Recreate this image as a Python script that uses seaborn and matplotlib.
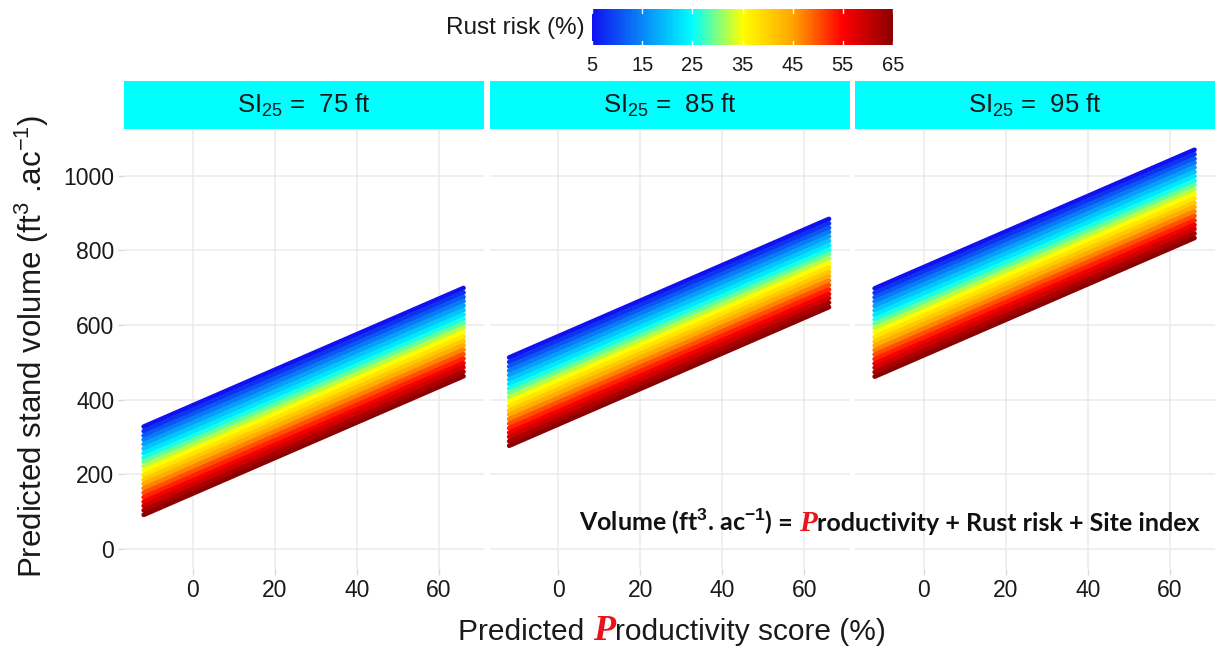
import numpy as np
import pandas as pd
import matplotlib
matplotlib.use("Agg")
import matplotlib.pyplot as plt
import seaborn as sns
from matplotlib.colors import LinearSegmentedColormap, Normalize
from matplotlib.cm import ScalarMappable
from matplotlib.offsetbox import TextArea, HPacker, AnchoredOffsetbox

# ---------------- data ----------------
site_labels = ["75", "85", "95"]
rust_levels = [5, 8, 11, 14, 17, 20, 23, 26, 29, 32, 35, 38, 41, 44, 47, 50, 53, 56, 59, 62, 65]
prod_range = [-12, 66]
vol_start_75 = [328, 316, 304, 293, 281, 269, 257, 245, 234, 222, 210, 198, 186, 175, 163, 151, 139, 127, 116, 104, 92]
vol_end_75 = [699, 687, 675, 664, 652, 640, 628, 616, 605, 593, 581, 569, 557, 546, 534, 522, 510, 498, 487, 475, 463]
vol_start_85 = [513, 501, 489, 478, 466, 454, 442, 430, 419, 407, 395, 383, 371, 360, 348, 336, 324, 312, 301, 289, 277]
vol_end_85 = [884, 872, 860, 849, 837, 825, 813, 801, 790, 778, 766, 754, 742, 731, 719, 707, 695, 683, 672, 660, 648]
vol_start_95 = [698, 686, 674, 663, 651, 639, 627, 615, 604, 592, 580, 568, 556, 545, 533, 521, 509, 497, 486, 474, 462]
vol_end_95 = [1069, 1057, 1045, 1034, 1022, 1010, 998, 986, 975, 963, 951, 939, 927, 916, 904, 892, 880, 868, 857, 845, 833]
x_ticks = [0, 20, 40, 60]
y_ticks = [0, 200, 400, 600, 800, 1000]
cbar_ticks = [5, 15, 25, 35, 45, 55, 65]

starts = {"75": vol_start_75, "85": vol_start_85, "95": vol_start_95}
ends = {"75": vol_end_75, "85": vol_end_85, "95": vol_end_95}
rows = []
for s in site_labels:
    for r, v0, v1 in zip(rust_levels, starts[s], ends[s]):
        rows.append((s, r, prod_range[0], v0))
        rows.append((s, r, prod_range[1], v1))
df = pd.DataFrame(rows, columns=["site", "rust", "prod", "volume"])

# ---------------- style ----------------
sns.set_style("white")
plt.rcParams["font.family"] = ["Liberation Sans", "DejaVu Sans"]
plt.rcParams["mathtext.fontset"] = "custom"
plt.rcParams["mathtext.rm"] = "Liberation Sans"
plt.rcParams["mathtext.it"] = "Liberation Sans:italic"
plt.rcParams["mathtext.bf"] = "Liberation Sans:bold"

cmap = LinearSegmentedColormap.from_list(
    "rust",
    [(0.0, "#1010f0"), (1/3, "#00ffff"), (0.5, "#ffff00"), (2/3, "#ffa500"),
     (5/6, "#ff0000"), (1.0, "#8b0000")])
norm = Normalize(vmin=5, vmax=65)

W, H = 1217, 649
fig = plt.figure(figsize=(W / 100, H / 100), dpi=100)

def fx(px):
    return px / W

def fy(py):
    return 1 - py / H

panel_left = [124, 489.5, 855]
panel_w = 360
top_px, bot_px = 130, 569
txt = "#1a1a1a"

for i, s in enumerate(site_labels):
    ax = fig.add_axes([fx(panel_left[i]), fy(bot_px), fx(panel_w), (bot_px - top_px) / H])
    sns.lineplot(data=df[df["site"] == s], x="prod", y="volume", hue="rust",
                 palette=cmap, hue_norm=norm, legend=False, linewidth=3.4,
                 estimator=None, units="rust", ax=ax)
    ax.set_xlim(-16.8, 71)
    ax.set_ylim(-53, 1122)
    ax.set_xticks(x_ticks)
    ax.set_yticks(y_ticks)
    ax.grid(True, color="#ebebeb", linewidth=1.1)
    ax.set_axisbelow(True)
    for sp in ax.spines.values():
        sp.set_visible(False)
    ax.set_xlabel("")
    ax.set_ylabel("")
    ax.tick_params(axis="x", length=4, width=1, color="#d9d9d9", labelsize=16.5,
                   labelcolor=txt, pad=3, bottom=True)
    if i == 0:
        ax.tick_params(axis="y", length=4, width=1, color="#d9d9d9", labelsize=16.5,
                       labelcolor=txt, pad=3, left=True)
    else:
        ax.tick_params(axis="y", left=False, labelleft=False)

    # strip
    sax = fig.add_axes([fx(panel_left[i]), fy(129), fx(panel_w), 48 / H])
    sax.set_facecolor("#00ffff")
    sax.set_xticks([])
    sax.set_yticks([])
    for sp in sax.spines.values():
        sp.set_visible(False)
    sax.text(0.5, 0.5, r"SI$_{25}$ =  " + s + " ft", ha="center", va="center",
             fontsize=18.5, color=txt, transform=sax.transAxes)

# y label
fig.text(fx(32), fy(346), r"Predicted stand volume (ft$^{3}$ .ac$^{-1}$)",
         rotation=90, ha="center", va="center", fontsize=22.5, color=txt)

# x label with red stylised P
def packed(parts, xy, loc="center"):
    areas = [TextArea(t, textprops=p) for t, p in parts]
    box = HPacker(children=areas, align="baseline", pad=0, sep=0)
    ab = AnchoredOffsetbox(loc=loc, child=box, frameon=False, pad=0, borderpad=0,
                           bbox_to_anchor=xy, bbox_transform=fig.transFigure)
    fig.add_artist(ab)

base = dict(fontsize=21.5, color=txt, family=["Liberation Sans", "DejaVu Sans"])
redP = dict(fontsize=26, color="#e8141c", family=["Liberation Serif", "DejaVu Serif"],
            weight="bold", style="italic")
packed([("Predicted\u00a0", base), ("P", redP), ("roductivity score (%)", base)],
       (fx(672), fy(631)))

# equation annotation
eq = dict(fontsize=18, color="#111111", family=["Lato", "DejaVu Sans"], weight="bold")
redP2 = dict(fontsize=21, color="#e8141c", family=["Liberation Serif", "DejaVu Serif"],
             weight="bold", style="italic")
packed([(r"Volume (ft$^{\mathbf{3}}$. ac$^{\mathbf{-1}}$)", eq), ("\u00a0=\u00a0", eq),
        ("P", redP2), ("roductivity + Rust risk + Site index", eq)],
       (fx(889), fy(522)))

# colour bar
cax = fig.add_axes([fx(592), fy(45), fx(301), 36 / H])
sm = ScalarMappable(norm=norm, cmap=cmap)
cb = fig.colorbar(sm, cax=cax, orientation="horizontal", ticks=cbar_ticks)
cb.outline.set_visible(False)
cax.tick_params(axis="x", length=0, labelsize=14.5, labelcolor=txt, pad=8)
for t in cbar_ticks:
    cax.plot([t, t], [0, 0.12], color="white", lw=1, transform=cax.get_xaxis_transform())
    cax.plot([t, t], [0.88, 1], color="white", lw=1, transform=cax.get_xaxis_transform())
fig.text(fx(585), fy(28), "Rust risk (%)", ha="right", va="center", fontsize=17.5,
         color=txt)

fig.savefig("out.png", dpi=100, facecolor="white")
